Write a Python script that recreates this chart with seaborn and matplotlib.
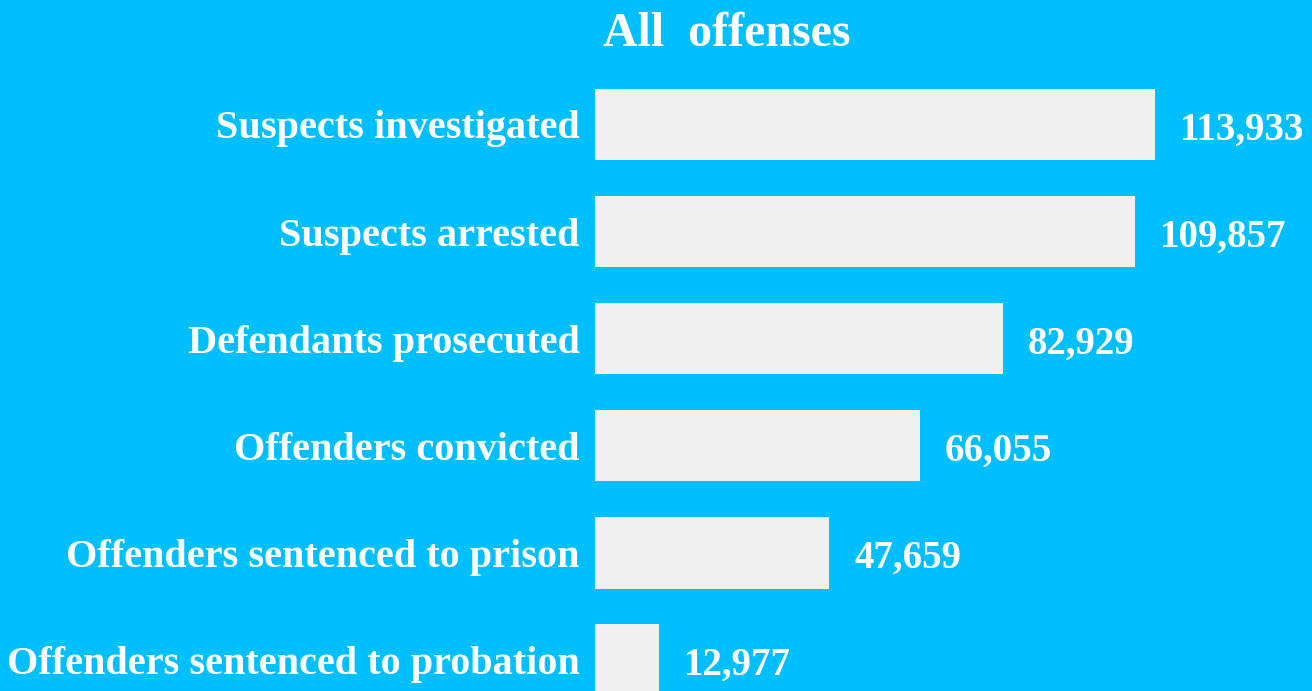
import matplotlib
matplotlib.use("Agg")
import matplotlib.pyplot as plt
import seaborn as sns
import pandas as pd

# -------------------------
# Data
# -------------------------
stages = [
    "Suspects investigated",
    "Suspects arrested",
    "Defendants prosecuted",
    "Offenders convicted",
    "Offenders sentenced to prison",
    "Offenders sentenced to probation",
]
counts = [113933, 109857, 82929, 66055, 47659, 12977]
title = "All  offenses"

df = pd.DataFrame({"stage": stages, "count": counts})

bg = "#00BFFF"
bar_color = "#EFEFEF"

sns.set_style("white")
plt.rcParams["font.family"] = ["Liberation Serif", "DejaVu Serif"]
plt.rcParams["font.weight"] = "bold"

fig = plt.figure(figsize=(13.12, 6.91), dpi=100)
fig.patch.set_facecolor(bg)
ax = fig.add_axes([595 / 1312, 0, 717 / 1312, 1])
ax.set_facecolor(bg)

sns.barplot(data=df, x="count", y="stage", color=bar_color, width=0.665,
            saturation=1, linewidth=0, ax=ax)

ax.set_xlim(0, 145900)
ax.set_ylim(5.289, -1.162)

for sp in ax.spines.values():
    sp.set_visible(False)
ax.set_xticks([])
ax.set_xlabel("")
ax.set_ylabel("")
ax.tick_params(axis="y", length=0, pad=11, labelsize=29, labelcolor="white")
for lab in ax.get_yticklabels():
    lab.set_fontweight("bold")

# value labels to the right of each bar
for i, v in enumerate(counts):
    ax.annotate(f"{v:,}", xy=(v, i), xytext=(18, -4), textcoords="offset points",
                ha="left", va="center", color="white", fontsize=28,
                fontweight="bold")

fig.text(727 / 1312, 1 - 34 / 691, title, ha="center", va="center",
         color="white", fontsize=34.5, fontweight="bold")

fig.savefig("out.png", dpi=100, facecolor=bg)
